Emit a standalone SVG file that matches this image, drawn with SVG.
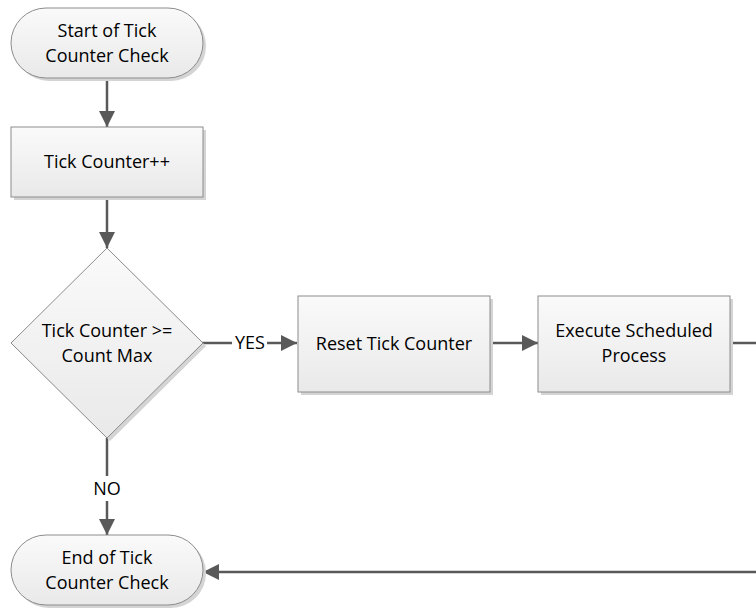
<svg xmlns="http://www.w3.org/2000/svg" width="756" height="608" viewBox="0 0 756 608">
<defs>
<linearGradient id="g" x1="0" y1="0" x2="0" y2="1">
<stop offset="0" stop-color="#fafafa"/>
<stop offset="1" stop-color="#e9e9e9"/>
</linearGradient>
<marker id="arr" viewBox="0 0 16 16" refX="16" refY="8" markerWidth="16" markerHeight="16" markerUnits="userSpaceOnUse" orient="auto">
<path d="M0,0 L16,8 L0,16 Z" fill="#595959"/>
</marker>
<style>
.shape{fill:url(#g);stroke:#8c8c8c;stroke-width:1}
.shadow{fill:#d4d4d4}
.t{font-family:"Open Sans","Liberation Sans",sans-serif;font-size:18px;fill:#000;text-anchor:middle}
.c{fill:none;stroke:#595959;stroke-width:2.5}
</style>
</defs>
<rect width="756" height="608" fill="#ffffff"/>
<g id="connectors">
<line class="c" x1="107" y1="79" x2="107" y2="127" marker-end="url(#arr)"/>
<line class="c" x1="107" y1="198" x2="107" y2="248" marker-end="url(#arr)"/>
<polyline class="c" points="202,343 232,343"/>
<line class="c" x1="267" y1="343" x2="297" y2="343" marker-end="url(#arr)"/>
<line class="c" x1="490" y1="343" x2="538" y2="343" marker-end="url(#arr)"/>
<polyline class="c" points="731,343 770,343 770,572 203,572" marker-end="url(#arr)"/>
<line class="c" x1="107" y1="438" x2="107" y2="476"/>
<line class="c" x1="107" y1="501" x2="107" y2="535" marker-end="url(#arr)"/>
<text class="t" x="250" y="349">YES</text>
<text class="t" x="107" y="495">NO</text>
</g>
<g id="start">
<rect class="shadow" x="14" y="11" width="192" height="70" rx="35"/>
<rect class="shape" x="11" y="8" width="192" height="70" rx="35"/>
<text class="t" x="107" y="37">Start of Tick</text>
<text class="t" x="107" y="62">Counter Check</text>
</g>
<g id="increment">
<rect class="shadow" x="14" y="130" width="192" height="70"/>
<rect class="shape" x="11" y="127" width="192" height="70"/>
<text class="t" x="107" y="168">Tick Counter++</text>
</g>
<g id="decision">
<polygon class="shadow" points="110,251 206,346 110,441 14,346"/>
<polygon class="shape" points="107,248 203,343 107,438 11,343"/>
<text class="t" x="107" y="337">Tick Counter &gt;=</text>
<text class="t" x="107" y="362">Count Max</text>
</g>
<g id="reset">
<rect class="shadow" x="301" y="299" width="192" height="96"/>
<rect class="shape" x="298" y="296" width="192" height="96"/>
<text class="t" x="394" y="350">Reset Tick Counter</text>
</g>
<g id="execute">
<rect class="shadow" x="541" y="299" width="192" height="96"/>
<rect class="shape" x="538" y="296" width="192" height="96"/>
<text class="t" x="634" y="337">Execute Scheduled</text>
<text class="t" x="634" y="362">Process</text>
</g>
<g id="end">
<rect class="shadow" x="14" y="538" width="192" height="70" rx="35"/>
<rect class="shape" x="11" y="535" width="192" height="70" rx="35"/>
<text class="t" x="107" y="564">End of Tick</text>
<text class="t" x="107" y="589">Counter Check</text>
</g>
</svg>
